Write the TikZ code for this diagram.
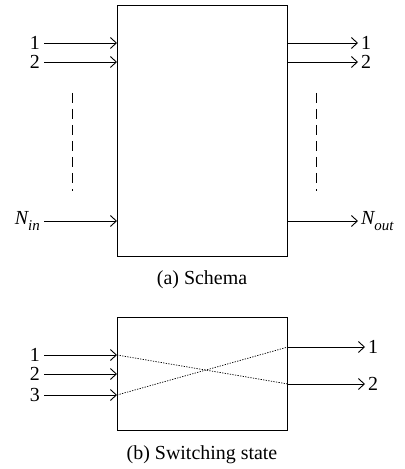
\documentclass[tikz,border=0pt]{standalone}
\usepackage{fontspec}
\setmainfont{Liberation Serif}
\newfontfamily\timesfont{Liberation Serif}
\usetikzlibrary{arrows.meta}
\begin{document}
\begin{tikzpicture}[x=1bp,y=-1bp,
  every node/.style={font=\timesfont\fontsize{20}{24}\selectfont, inner sep=0pt},
  blk/.style={draw, line width=0.9bp, minimum width=170bp, anchor=north west},
  sig/.style={line width=0.9bp, -{Straight Barb[length=6bp,width=11bp,line width=0.9bp]}},
  vdots/.style={line width=0.9bp, dash pattern=on 10bp off 6bp},
  cross/.style={line width=0.7bp, dash pattern=on 1.3bp off 1.3bp}]
\useasboundingbox (0,0) rectangle (404,469);
% (a) Schema
\node[blk, minimum height=251bp] (A) at (117,5) {};
\node[anchor=east] (ai1) at (40,43) {1};
\node[anchor=east] (ai2) at (40,62) {2};
\node[anchor=east] (aiN) at (40,221) {\itshape N\raisebox{-0.3em}{\fontsize{15}{15}\selectfont in}};
\coordinate (ai1e) at (A.west |- ai1);
\coordinate (ai2e) at (A.west |- ai2);
\coordinate (aiNe) at (A.west |- aiN);
\draw[sig] (ai1.east) ++(4,0) -- (ai1e);
\draw[sig] (ai2.east) ++(4,0) -- (ai2e);
\draw[sig] (aiN.east) ++(4,0) -- (aiNe);
\node[anchor=west] (ao1) at (361,43) {1};
\node[anchor=west] (ao2) at (361,62) {2};
\node[anchor=west] (aoN) at (361,221) {\itshape N\raisebox{-0.3em}{\fontsize{15}{15}\selectfont out}};
\coordinate (ao1s) at (A.east |- ao1);
\coordinate (ao2s) at (A.east |- ao2);
\coordinate (aoNs) at (A.east |- aoN);
\draw[sig] (ao1s) -- ([xshift=-3bp]ao1.west);
\draw[sig] (ao2s) -- ([xshift=-3bp]ao2.west);
\draw[sig] (aoNs) -- ([xshift=-3bp]aoN.west);
\coordinate (dl1) at (72,93);
\coordinate (dl2) at (72,191);
\coordinate (dr1) at (316,93);
\coordinate (dr2) at (316,191);
\draw[vdots] (dl1) -- (dl2);
\draw[vdots] (dr1) -- (dr2);
\node (capa) at (202,280) {(a) Schema};
% (b) Switching state
\node[blk, minimum height=113bp] (B) at (117,317) {};
\node[anchor=east] (bi1) at (40,355) {1};
\node[anchor=east] (bi2) at (40,374) {2};
\node[anchor=east] (bi3) at (40,395) {3};
\coordinate (bi1e) at (B.west |- bi1);
\coordinate (bi2e) at (B.west |- bi2);
\coordinate (bi3e) at (B.west |- bi3);
\draw[sig] (bi1.east) ++(4,0) -- (bi1e);
\draw[sig] (bi2.east) ++(4,0) -- (bi2e);
\draw[sig] (bi3.east) ++(4,0) -- (bi3e);
\node[anchor=west] (bo1) at (368,347) {1};
\node[anchor=west] (bo2) at (368,384) {2};
\coordinate (bo1s) at (B.east |- bo1);
\coordinate (bo2s) at (B.east |- bo2);
\draw[sig] (bo1s) -- ([xshift=-3bp]bo1.west);
\draw[sig] (bo2s) -- ([xshift=-3bp]bo2.west);
\draw[cross] (bi1e) -- (bo2s);
\draw[cross] (bi3e) -- (bo1s);
\node (capb) at (202,455) {(b) Switching state};
\end{tikzpicture}
\end{document}
